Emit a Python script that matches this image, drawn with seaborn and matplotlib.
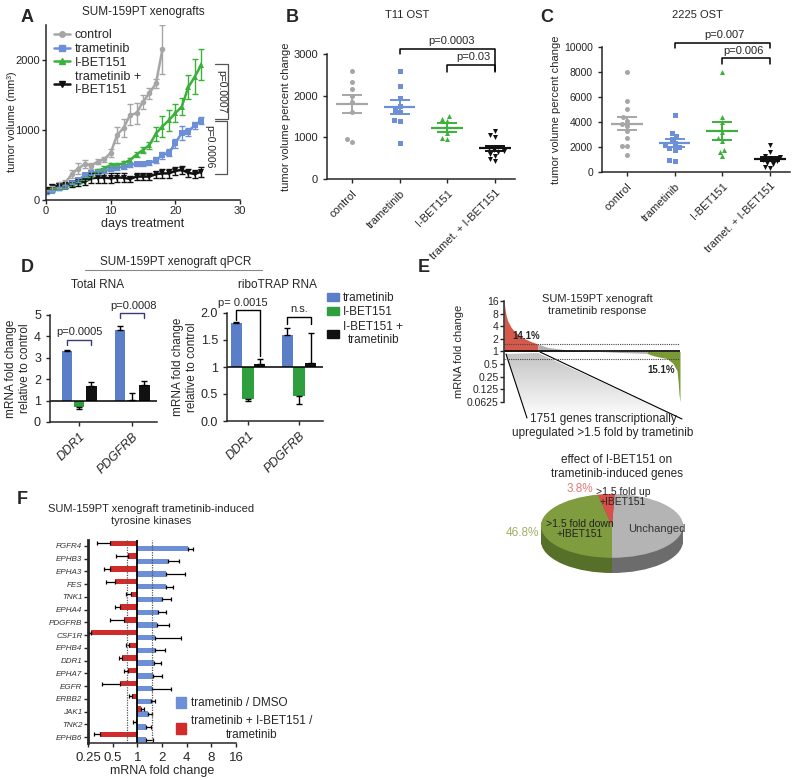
import numpy as np
import pandas as pd
import matplotlib
matplotlib.use("Agg")
import matplotlib.pyplot as plt
import seaborn as sns
from matplotlib.patches import Polygon, Patch
from matplotlib.lines import Line2D
from matplotlib.colors import LinearSegmentedColormap

sns.set_style("ticks")
plt.rcParams['font.family'] = ['Liberation Sans', 'DejaVu Sans']
plt.rcParams['axes.linewidth'] = 1.1

W, H = 800, 780

# ---------------- data ----------------
# A: SUM-159PT xenografts (mean, sem)
days_ctrl = list(range(19))
ctrl_mean = [120, 165, 215, 250, 370, 450, 515, 490, 550, 580, 675, 930, 1030, 1215, 1240, 1405, 1525, 1665, 2150]
ctrl_err = [30, 30, 40, 40, 60, 80, 60, 40, 40, 30, 60, 110, 130, 150, 150, 100, 80, 70, 350]
days = list(range(25))
tram_mean = [110, 130, 165, 190, 250, 285, 355, 390, 395, 415, 450, 460, 475, 500, 515, 515, 525, 570, 640, 675, 810, 960, 975, 1070, 1130]
tram_err = [20, 20, 20, 25, 25, 30, 30, 30, 30, 30, 30, 30, 30, 30, 30, 30, 30, 40, 50, 50, 60, 100, 60, 50, 50]
ibet_mean = [120, 145, 165, 190, 225, 260, 310, 355, 420, 450, 500, 500, 525, 570, 650, 715, 785, 950, 1050, 1140, 1240, 1335, 1610, 1760, 1930]
ibet_err = [20, 20, 20, 20, 20, 25, 25, 30, 30, 30, 30, 30, 30, 35, 40, 40, 50, 100, 150, 150, 130, 120, 170, 250, 220]
combo_mean = [140, 190, 205, 215, 225, 245, 260, 310, 320, 320, 310, 320, 320, 300, 335, 335, 335, 370, 380, 380, 415, 430, 390, 370, 405]
combo_err = [40, 40, 40, 40, 40, 50, 50, 70, 70, 70, 70, 60, 60, 40, 50, 50, 50, 50, 60, 60, 60, 60, 60, 60, 70]

groups = ["control", "trametinib", "I-BET151", "tramet. + I-BET151"]

# B: T11 OST
b_control = [2600, 2330, 2150, 2000, 1850, 1600, 960, 900]
b_tram = [2600, 2230, 1950, 1760, 1650, 1600, 1420, 1400, 855]
b_ibet = [1510, 1450, 1400, 1100, 980, 950]
b_combo = [1150, 1050, 1000, 780, 740, 700, 680, 650, 600, 560, 480, 440]

# C: 2225 OST
c_control = [8000, 5650, 5050, 4400, 4100, 3850, 3700, 3250, 2700, 2100, 2050, 1400]
c_tram = [4550, 3150, 2900, 2650, 2300, 2150, 2000, 1900, 1800, 1000, 900]
c_ibet = [8000, 4400, 4000, 3200, 2700, 2500, 1800, 1600, 1250]
c_combo = [2200, 1600, 1300, 1200, 1100, 950, 850, 750, 650, 400, 300]

# D: qPCR, fold change vs control
d_genes = ["DDR1", "PDGFRB"]
d_total_tram = [3.3, 4.3]
d_total_tram_err = [0.07, 0.2]
d_total_ibet = [0.68, 1.05]
d_total_ibet_err = [0.08, 0.3]
d_total_combo = [1.7, 1.72]
d_total_combo_err = [0.15, 0.2]
d_ribo_tram = [1.82, 1.6]
d_ribo_tram_err = [0.02, 0.13]
d_ribo_ibet = [0.4, 0.47]
d_ribo_ibet_err = [0.03, 0.15]
d_ribo_combo = [1.05, 1.08]
d_ribo_combo_err = [0.1, 0.55]

# E: sorted fold change (percent rank of genes)
e_rank = [0, 0.5, 1, 2, 4, 6, 9, 12, 15, 19.3, 25, 35, 45, 55, 65, 75, 81.3, 84.7, 88, 92.6, 96, 98.3, 98.9, 99.4, 100]
e_fold = [16, 11, 8, 5.5, 3.8, 3.0, 2.4, 2.0, 1.75, 1.5, 1.25, 1.1, 1.03, 1.0, 0.95, 0.92, 0.9, 0.8, 0.74, 0.68, 0.52, 0.35, 0.2, 0.1, 0.0625]
e_ticks = [0.0625, 0.125, 0.25, 0.5, 1, 2, 4, 8, 16]
e_ticklabels = ["0.0625", "0.125", "0.25", "0.5", "1", "2", "4", "8", "16"]

pie_labels = ["Unchanged", ">1.5 fold up\n+IBET151", ">1.5 fold down\n+IBET151"]
pie_pct = [49.4, 3.8, 46.8]

# F: tyrosine kinases
f_genes = ["FGFR4", "EPHB3", "EPHA3", "FES", "TNK1", "EPHA4", "PDGFRB", "CSF1R",
           "EPHB4", "DDR1", "EPHA7", "EGFR", "ERBB2", "JAK1", "TNK2", "EPHB6"]
f_tram = [4.15, 2.37, 2.26, 2.22, 2.02, 1.79, 1.75, 1.66, 1.63, 1.6, 1.55, 1.52, 1.45, 1.35, 1.29, 1.29]
f_tram_end = [4.8, 3.2, 3.8, 2.72, 2.55, 2.26, 2.41, 3.38, 2.16, 1.96, 2.02, 2.55, 1.63, 1.52, 1.48, 1.55]
f_combo = [0.46, 0.77, 0.46, 0.53, 0.84, 0.62, 0.68, 0.27, 0.79, 0.65, 0.77, 0.62, 0.86, 1.12, 0.95, 0.35]
f_combo_end = [0.325, 0.55, 0.39, 0.41, 0.73, 0.53, 0.46, 0.26, 0.72, 0.6, 0.68, 0.37, 0.79, 1.2, 0.89, 0.3]

GREY = "#a6a6a6"
BLUE = "#6d8fd8"
GREEN = "#3bb03b"
BLACK = "#111111"
D_BLUE = "#5b7ec9"
D_GREEN = "#2e9e3e"
RED = "#d22b2b"


def add_px(fig, L, T, R, B):
    return fig.add_axes([L / W, 1 - B / H, (R - L) / W, (B - T) / H])


fig = plt.figure(figsize=(8, 7.8), dpi=100)
fig.patch.set_facecolor("white")

# background overlay (gradient wedge) and foreground overlay (free text), pixel coords
ov = fig.add_axes([0, 0, 1, 1], zorder=-1)
ovt = fig.add_axes([0, 0, 1, 1], zorder=10)
for o in (ov, ovt):
    o.set_xlim(0, W)
    o.set_ylim(H, 0)
    o.axis("off")

for lab, x, y in [("A", 27, 17), ("B", 292, 17), ("C", 547, 17), ("D", 27, 268), ("E", 424, 268), ("F", 22, 499)]:
    ovt.text(x, y, lab, fontsize=13, fontweight="bold", ha="center", va="center")

# ---------------- A ----------------
axA = add_px(fig, 46, 25, 240, 200)
axA.patch.set_alpha(0)
dfA = pd.concat([
    pd.DataFrame({"day": days_ctrl, "vol": ctrl_mean, "err": ctrl_err, "group": "control"}),
    pd.DataFrame({"day": days, "vol": tram_mean, "err": tram_err, "group": "trametinib"}),
    pd.DataFrame({"day": days, "vol": ibet_mean, "err": ibet_err, "group": "I-BET151"}),
    pd.DataFrame({"day": days, "vol": combo_mean, "err": combo_err, "group": "combo"}),
])
pal_A = {"control": GREY, "trametinib": BLUE, "I-BET151": GREEN, "combo": BLACK}
mk_A = {"control": "o", "trametinib": "s", "I-BET151": "^", "combo": "v"}
sns.lineplot(data=dfA, x="day", y="vol", hue="group", style="group", palette=pal_A,
             markers=mk_A, dashes=False, markersize=4, markeredgewidth=0, lw=1.8,
             legend=False, ax=axA)
for g, sub in dfA.groupby("group"):
    axA.errorbar(sub["day"], sub["vol"], yerr=sub["err"], fmt="none", ecolor=pal_A[g],
                 elinewidth=1, capsize=2.5, capthick=1)
axA.set_xlim(0, 30)
axA.set_ylim(0, 2500)
axA.set_xticks([0, 10, 20, 30])
axA.set_yticks([0, 1000, 2000])
axA.tick_params(labelsize=8, length=3, width=1, pad=1.5)
axA.set_xlabel("days treatment", fontsize=9, labelpad=1)
axA.set_ylabel("tumor volume (mm³)", fontsize=8)
axA.yaxis.set_label_coords(-0.15, 0.45)
axA.set_title("SUM-159PT xenografts", fontsize=8.5, pad=7)
sns.despine(ax=axA)
handles = [Line2D([], [], color=pal_A[g], marker=mk_A[g], markersize=4, lw=1.8) for g in pal_A]
axA.legend(handles, ["control", "trametinib", "I-BET151", "trametinib +\nI-BET151"],
           loc="upper left", bbox_to_anchor=(0.0, 1.02), frameon=False, fontsize=9,
           handlelength=1.3, handletextpad=0.4, labelspacing=0.15, borderaxespad=0.2)
# significance brackets
kw = dict(color="#555555", lw=0.9, clip_on=False)
axA.plot([26.1, 28.2, 28.2, 26.1], [1950, 1950, 1150, 1150], **kw)
axA.plot([26.1, 28.0, 28.0, 26.1], [1130, 1130, 370, 370], **kw)
axA.text(27.1, 1550, "p=0.0007", rotation=-90, fontsize=7.5, ha="center", va="center")
axA.text(25.2, 760, "p=0.0006", rotation=-90, fontsize=7.5, ha="center", va="center")


# ---------------- B, C ----------------
def scatter_panel(ax, vals, colors, ymax, yticks, tsize):
    markers = ["o", "s", "^", "v"]
    ax.patch.set_alpha(0)
    for i, (v, c, m) in enumerate(zip(vals, colors, markers)):
        d = pd.DataFrame({"group": groups[i], "value": v})
        sns.swarmplot(data=d, x="group", y="value", order=groups, color=c, marker=m,
                      size=3.6, linewidth=0, ax=ax, warn_thresh=1)
        mean = np.mean(v)
        sem = np.std(v, ddof=1) / np.sqrt(len(v))
        ax.hlines(mean, i - 0.33, i + 0.33, color=c, lw=1.6, zorder=5)
        ax.errorbar(i, mean, yerr=sem, fmt="none", ecolor=c, elinewidth=1.4,
                    capsize=7, capthick=1.4, zorder=5)
    ax.set_xlim(-0.52, 3.42)
    ax.set_ylim(0, ymax)
    ax.set_yticks(yticks)
    ax.set_xlabel("")
    ax.set_ylabel("tumor volume percent change", fontsize=8, labelpad=2)
    ax.tick_params(labelsize=tsize, length=3, width=1)
    ax.set_xticks(range(4))
    ax.set_xticklabels(groups, rotation=45, ha="right", rotation_mode="anchor", fontsize=8)
    sns.despine(ax=ax)


axB = add_px(fig, 327, 54, 515, 179)
scatter_panel(axB, [b_control, b_tram, b_ibet, b_combo], [GREY, BLUE, GREEN, BLACK],
              3000, [0, 1000, 2000, 3000], 8)
kw = dict(color="black", lw=1.1, clip_on=False)
axB.plot([1, 1, 3, 3], [3000, 3120, 3120, 2600], **kw)
axB.plot([2, 2, 3, 3], [2580, 2730, 2730, 2580], **kw)
axB.text(2.1, 3200, "p=0.0003", fontsize=8, ha="center", va="bottom")
axB.text(2.55, 2800, "p=0.03", fontsize=8, ha="center", va="bottom")
ovt.text(407, 15, "T11 OST", fontsize=8, ha="center", va="center")

axC = add_px(fig, 602, 47, 790, 172)
scatter_panel(axC, [c_control, c_tram, c_ibet, c_combo], [GREY, BLUE, GREEN, BLACK],
              10000, [0, 2000, 4000, 6000, 8000, 10000], 7.5)
axC.plot([1, 1, 3, 3], [9950, 10330, 10330, 9950], **kw)
axC.plot([2, 2, 3, 3], [8650, 9100, 9100, 8650], **kw)
axC.text(2.05, 10550, "p=0.007", fontsize=8, ha="center", va="bottom")
axC.text(2.45, 9300, "p=0.006", fontsize=8, ha="center", va="bottom")
ovt.text(697, 15, "2225 OST", fontsize=8, ha="center", va="center")


# ---------------- D ----------------
def d_bars(ax, series, errs, width):
    offs = [-0.23, 0.0, 0.23]
    cols = [D_BLUE, D_GREEN, BLACK]
    x = np.arange(len(d_genes))
    for vals, err, off, c in zip(series, errs, offs, cols):
        vals = np.asarray(vals)
        err = np.asarray(err)
        ax.bar(x + off, vals - 1, bottom=1, width=width, color=c, edgecolor="none")
        lo = np.where(vals < 1, err, 0)
        hi = np.where(vals >= 1, err, 0)
        ax.errorbar(x + off, vals, yerr=[lo, hi], fmt="none", ecolor="black",
                    elinewidth=1, capsize=2.5, capthick=1)
    ax.axhline(1, color="black", lw=1.1)
    ax.set_xticks(x)
    ax.set_xticklabels(d_genes, rotation=45, ha="right", rotation_mode="anchor",
                       fontsize=8.5, style="italic")
    ax.tick_params(labelsize=9, length=3, width=1)
    ax.set_ylabel("mRNA fold change\nrelative to control", fontsize=8.5, labelpad=2)
    ax.patch.set_alpha(0)
    sns.despine(ax=ax)


axD1 = add_px(fig, 50, 315, 157, 422)
d_bars(axD1, [d_total_tram, d_total_ibet, d_total_combo],
       [d_total_tram_err, d_total_ibet_err, d_total_combo_err], 0.2)
axD1.set_xlim(-0.55, 1.47)
axD1.set_ylim(0, 5)
axD1.set_yticks([0, 1, 2, 3, 4, 5])
kwd = dict(color="#3a3a7a", lw=1.0, clip_on=False)
axD1.plot([-0.23, -0.23, 0.23, 0.23], [3.6, 3.85, 3.85, 3.6], **kwd)
axD1.plot([0.77, 0.77, 1.23, 1.23], [4.85, 5.1, 5.1, 4.85], **kwd)
axD1.text(0.0, 3.95, "p=0.0005", fontsize=8, ha="center", va="bottom")
axD1.text(1.02, 5.2, "p=0.0008", fontsize=8, ha="center", va="bottom")

axD2 = add_px(fig, 227, 313, 323, 421)
d_bars(axD2, [d_ribo_tram, d_ribo_ibet, d_ribo_combo],
       [d_ribo_tram_err, d_ribo_ibet_err, d_ribo_combo_err], 0.22)
axD2.set_xlim(-0.41, 1.47)
axD2.set_ylim(0, 2)
axD2.set_yticks([0, 0.5, 1, 1.5, 2])
axD2.set_yticklabels(["0.0", "0.5", "1", "1.5", "2.0"])
kwd2 = dict(color="black", lw=1.0, clip_on=False)
axD2.plot([-0.23, -0.23, 0.23, 0.23], [1.87, 2.05, 2.05, 1.2], **kwd2)
axD2.plot([0.77, 0.77, 1.23, 1.23], [1.8, 1.93, 1.93, 1.8], **kwd2)
axD2.text(-0.1, 2.1, "p= 0.0015", fontsize=8, ha="center", va="bottom")
axD2.text(1.0, 1.98, "n.s.", fontsize=8, ha="center", va="bottom")

leg_h = [Patch(color=D_BLUE), Patch(color=D_GREEN), Patch(color=BLACK)]
legD = axD2.legend(leg_h, ["trametinib", "I-BET151", "I-BET151 +\ntrametinib"],
                   loc="upper left", bbox_to_anchor=((322 - 227) / 96, 1.24), frameon=False,
                   fontsize=8.5, handlelength=1.0, handleheight=0.7, handletextpad=0.4,
                   labelspacing=0.2, borderaxespad=0)
for t in legD.get_texts():
    t.set_multialignment("center")

ovt.text(176, 262, "SUM-159PT xenograft qPCR", fontsize=8.5, ha="center", va="center")
ovt.plot([85, 262], [270, 270], color="#888888", lw=0.8)
ovt.text(98, 285, "Total RNA", fontsize=8.5, ha="center", va="center")
ovt.text(277, 285, "riboTRAP RNA", fontsize=8.5, ha="center", va="center")

# ---------------- E ----------------
axE = add_px(fig, 504, 301, 680, 402)
axE.patch.set_alpha(0)
er = np.asarray(e_rank)
ef = np.asarray(e_fold)
up = er <= 19.3
mid = (er >= 19.3) & (er <= 81.3)
dn = er >= 81.3
axE.fill_between(er[up], 1, ef[up], color="#d55a4c", lw=0)
axE.fill_between(er[mid], 1, ef[mid], color="#b0b0b0", lw=0)
axE.fill_between(er[dn], 1, ef[dn], color="#7b9a36", lw=0)
axE.axhline(1, color="black", lw=1.2)
axE.axhline(1.5, color="#444444", lw=0.8, ls=(0, (1, 1)))
axE.axhline(1 / 1.5, color="#444444", lw=0.8, ls=(0, (1, 1)))
axE.set_yscale("log", base=2)
axE.set_ylim(0.0625, 16)
axE.set_xlim(0, 100)
axE.set_yticks(e_ticks)
axE.set_yticklabels(e_ticklabels)
axE.minorticks_off()
axE.set_xticks([])
axE.tick_params(axis="y", labelsize=7.5, length=3, width=1, pad=1)
axE.set_ylabel("mRNA fold change", fontsize=8, labelpad=2)
sns.despine(ax=axE, bottom=True)
axE.text(12.5, 2.3, "14.1%", fontsize=7, fontweight="bold", ha="center", va="center")
axE.text(89, 0.36, "15.1%", fontsize=7, fontweight="bold", ha="center", va="center")

ovt.text(597, 305, "SUM-159PT xenograft\ntrametinib response", fontsize=8,
         ha="center", va="center", linespacing=1.3)

# gradient wedge linking upregulated genes to the pie
wedge = Polygon([(506, 354), (538, 353), (682, 419), (527, 418)], closed=True, fc="none", ec="none")
ov.add_patch(wedge)
cmap = LinearSegmentedColormap.from_list("g", ["#c4c4c4", "#ffffff"])
im = ov.imshow(np.linspace(0, 1, 100).reshape(-1, 1), extent=(506, 682, 419, 353),
               cmap=cmap, aspect="auto", origin="upper")
im.set_clip_path(wedge)
ov.plot([506, 527], [354, 418], color="black", lw=0.8)
ov.plot([540, 682], [352, 419], color="black", lw=0.8)
ov.set_xlim(0, W)
ov.set_ylim(H, 0)
ovt.text(603, 426, "1751 genes transcriptionally\nupregulated >1.5 fold by trametinib",
         fontsize=8.5, ha="center", va="center", linespacing=1.2)

# ---------------- pie ----------------
ovt.text(617, 467, "effect of I-BET151 on\ntrametinib-induced genes", fontsize=8.5,
         ha="center", va="center", linespacing=1.2)
axP = add_px(fig, 541, 494, 683, 573)
depth = 15 / 31.5
side_cols = ["#6c6c6c", "#a2322f", "#56702a"]
top_cols = ["#b4b4b4", "#d9504a", "#7f9c3e"]
for k in np.linspace(depth, 0.02, 14):
    axP.pie(pie_pct, colors=side_cols, startangle=-90, counterclock=True, radius=1,
            center=(0, -k), wedgeprops=dict(lw=0))
axP.pie(pie_pct, colors=top_cols, startangle=-90, counterclock=True, radius=1,
        center=(0, 0), wedgeprops=dict(lw=0))
axP.set_aspect("auto")
axP.set_xlim(-1, 1)
axP.set_ylim(-1 - depth, 1)
axP.axis("off")

ovt.text(580, 489, "3.8%", fontsize=8.5, color="#e07a78", ha="center", va="center")
ovt.text(623, 497, pie_labels[1], fontsize=7.5, ha="center", va="center", linespacing=1.05)
ovt.text(657, 529, pie_labels[0], fontsize=8, color="#333333", ha="center", va="center")
ovt.text(580, 529, pie_labels[2], fontsize=7.5, color="#222222", ha="center", va="center",
         linespacing=1.1)
ovt.text(522, 533, "46.8%", fontsize=8.5, color="#a2ae66", ha="center", va="center")

# ---------------- F ----------------
axF = add_px(fig, 88, 540, 236, 743)
axF.patch.set_alpha(0)
y = np.arange(len(f_genes))
ft = np.asarray(f_tram)
fc = np.asarray(f_combo)
axF.barh(y + 0.2, ft - 1, left=1, height=0.42, color=BLUE, edgecolor="none")
axF.barh(y - 0.2, fc - 1, left=1, height=0.42, color=RED, edgecolor="none")
te = np.asarray(f_tram_end)
ce = np.asarray(f_combo_end)
axF.errorbar(ft, y + 0.2, xerr=[np.zeros_like(ft), te - ft], fmt="none", ecolor="black",
             elinewidth=0.9, capsize=1.5, capthick=0.9)
axF.errorbar(fc, y - 0.2, xerr=[np.clip(fc - ce, 0, None), np.clip(ce - fc, 0, None)],
             fmt="none", ecolor="black", elinewidth=0.9, capsize=1.5, capthick=0.9)
axF.axvline(1, color="black", lw=1.3)
axF.axvline(0.75, color="#555555", lw=0.9, ls=(0, (1, 1)))
axF.axvline(1.5, color="#555555", lw=0.9, ls=(0, (1, 1)))
axF.set_xscale("log", base=2)
axF.set_xlim(0.25, 16)
axF.set_xticks([0.25, 0.5, 1, 2, 4, 8, 16])
axF.set_xticklabels(["0.25", "0.5", "1", "2", "4", "8", "16"])
axF.minorticks_off()
axF.set_yticks(y)
axF.set_yticklabels(f_genes, fontsize=5.8, style="italic", color="#333333")
axF.set_ylim(len(f_genes) - 0.53, -0.47)
axF.tick_params(axis="x", labelsize=9.5, length=3, width=1)
axF.tick_params(axis="y", length=3, width=1, pad=1)
axF.spines["left"].set_linewidth(2)
axF.set_xlabel("mRNA fold change", fontsize=9, labelpad=1)
sns.despine(ax=axF)
ovt.text(151, 515, "SUM-159PT xenograft trametinib-induced\ntyrosine kinases", fontsize=8,
         ha="center", va="center", linespacing=1.3)
legF = axF.legend([Patch(color=BLUE), Patch(color=RED)],
                  ["trametinib / DMSO", "trametinib + I-BET151 /\ntrametinib"],
                  loc="upper left", bbox_to_anchor=((171 - 88) / 148, 1 - (692 - 540) / 203),
                  frameon=False, fontsize=8.5, handlelength=0.9, handleheight=1.1,
                  handletextpad=0.4, labelspacing=0.5, borderaxespad=0)
for t in legF.get_texts():
    t.set_multialignment("center")

fig.savefig("out.png", dpi=100, facecolor="white")
